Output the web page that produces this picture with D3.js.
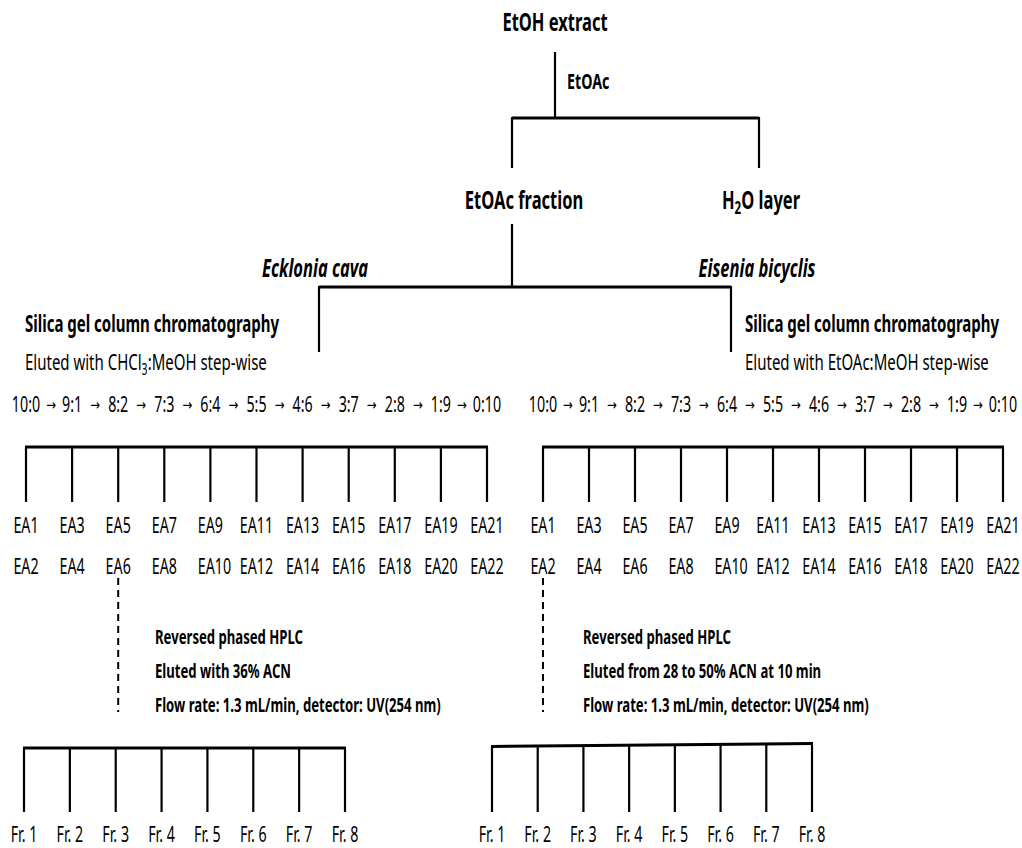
<!DOCTYPE html>
<html>
<head>
<meta charset="utf-8">
<script src="https://cdn.jsdelivr.net/npm/d3@7"></script>
<style>
  body { margin: 0; background: #fff; }
  text { font-family: "Noto Sans", "DejaVu Sans", sans-serif; fill: #000; }
</style>
</head>
<body>
<svg id="drawing_region"></svg>
<script>
// step gradients and fraction names
const ratios = ["10:0", "9:1", "8:2", "7:3", "6:4", "5:5", "4:6", "3:7", "2:8", "1:9", "0:10"];
const eaOdd  = ["EA1", "EA3", "EA5", "EA7", "EA9", "EA11", "EA13", "EA15", "EA17", "EA19", "EA21"];
const eaEven = ["EA2", "EA4", "EA6", "EA8", "EA10", "EA12", "EA14", "EA16", "EA18", "EA20", "EA22"];
const hplcFr = ["Fr. 1", "Fr. 2", "Fr. 3", "Fr. 4", "Fr. 5", "Fr. 6", "Fr. 7", "Fr. 8"];

// the two branches
const branches = [
    { species: "Ecklonia cava", solvent: [["Eluted with CHCl"], ["3", "sub"], [":MeOH step-wise"]],
      picked: "8:2", hplc: ["Reversed phased HPLC", "Eluted with 36% ACN", "Flow rate: 1.3 mL/min, detector: UV(254 nm)"] },
    { species: "Eisenia bicyclis", solvent: [["Eluted with EtOAc:MeOH step-wise"]],
      picked: "10:0", hplc: ["Reversed phased HPLC", "Eluted from 28 to 50% ACN at 10 min", "Flow rate: 1.3 mL/min, detector: UV(254 nm)"] }
];

const W = 1022, H = 848;
const SX = 0.67;  // horizontal squeeze of the lettering
const FS = 1.12;  // font size factor to go with it

const svg = d3.select('#drawing_region').attr('width', W).attr('height', H);

function label(x, y, parts, o) {
    o = o || {};
    const sx = o.sx || SX;
    const t = svg.append('text')
        .attr('transform', `translate(${x},${y}) scale(${sx},1)`)
        .attr('text-anchor', o.anchor || 'start')
        .style('font-size', ((o.size || 20) * FS) + 'px')
        .style('font-weight', o.bold ? 'bold' : 'normal')
        .style('font-style', o.italic ? 'italic' : 'normal');
    if (typeof parts === 'string') parts = [[parts]];
    parts.forEach(p => {
        const s = t.append('tspan').text(p[0]);
        if (p[1] === 'sub') s.attr('dy', 5).style('font-size', '0.7em');
        else if (t.selectAll('tspan').size() > 1) s.attr('dy', -5);
    });
    return t;
}

function line(x1, y1, x2, y2, w, dash) {
    svg.append('line')
        .attr('x1', x1).attr('y1', y1).attr('x2', x2).attr('y2', y2)
        .attr('stroke', '#000').attr('stroke-width', w || 2.2)
        .attr('stroke-dasharray', dash || null);
}

// top of the tree
label(555, 31, "EtOH extract", { anchor: 'middle', size: 22, bold: true });
line(555, 52, 555, 118);
label(567, 89, "EtOAc", { size: 19, bold: true });
line(512, 118, 759, 118, 3);
line(512, 117, 512, 168);
line(759, 117, 759, 168);
label(524, 209, "EtOAc fraction", { anchor: 'middle', size: 22, bold: true });
label(761, 209, [["H"], ["2", "sub"], ["O layer"]], { anchor: 'middle', size: 22, bold: true });
line(512, 224, 512, 287);
line(319, 287, 731, 287, 3);

const colRange = [[26, 487], [543, 1003]];
const frRange = [[24, 345], [492, 812]];
const frY = [[748, 748], [746.5, 743.5]];

branches.forEach((b, i) => {
    const x = d3.scalePoint().domain(ratios).range(colRange[i]);
    const xf = d3.scalePoint().domain(hplcFr).range(frRange[i]);
    const yTilt = d3.scaleLinear().domain(frRange[i]).range(frY[i]);
    const stem = i === 0 ? 319 : 731;

    line(stem, 286, stem, 352);
    label(i === 0 ? 315 : 757, 277, b.species, { anchor: 'middle', size: 22, bold: true, italic: true });

    const left = i === 0 ? 25 : 745;
    label(left, 332, "Silica gel column chromatography", { size: 20, bold: true });
    label(left, 370, b.solvent, { size: 20 });

    // gradient steps, arrows centred in the gaps between them
    const half = ratios.map(r => label(x(r), 412, r, { anchor: 'middle', size: 19 })
        .node().getComputedTextLength() * SX / 2);
    ratios.forEach((r, k) => {
        if (k < ratios.length - 1) {
            const nx = ratios[k + 1];
            const gx = ((x(r) + half[k]) + (x(nx) - half[k + 1])) / 2;
            label(gx, 410, "\u2192", { anchor: 'middle', size: 14, sx: 0.75 });
        }
    });

    // silica column fractions
    line(x.range()[0] - 1, 447, x.range()[1] + 1, 447, 3);
    ratios.forEach(r => line(x(r), 447, x(r), 502));
    ratios.forEach((r, k) => {
        const t = label(0, 0, eaOdd[k], { size: 19 });
        const w = t.node().getComputedTextLength() * SX;
        const lx = x(r) - w / 2;
        t.attr('transform', `translate(${lx},533) scale(${SX},1)`);
        label(lx, 574, eaEven[k], { size: 19 });
    });

    // HPLC step
    const px = x(b.picked);
    line(px, 578, px, 712, 2, "7,5");
    b.hplc.forEach((s, k) => label(i === 0 ? 155 : 583, 644 + k * 34, s, { size: 17.5, bold: true }));

    line(xf.range()[0] - 1, yTilt(xf.range()[0]), xf.range()[1] + 1, yTilt(xf.range()[1]), 3);
    hplcFr.forEach(f => line(xf(f), yTilt(xf(f)), xf(f), 812));
    hplcFr.forEach(f => label(xf(f), 842, f, { anchor: 'middle', size: 19 }));
});
</script>
</body>
</html>
